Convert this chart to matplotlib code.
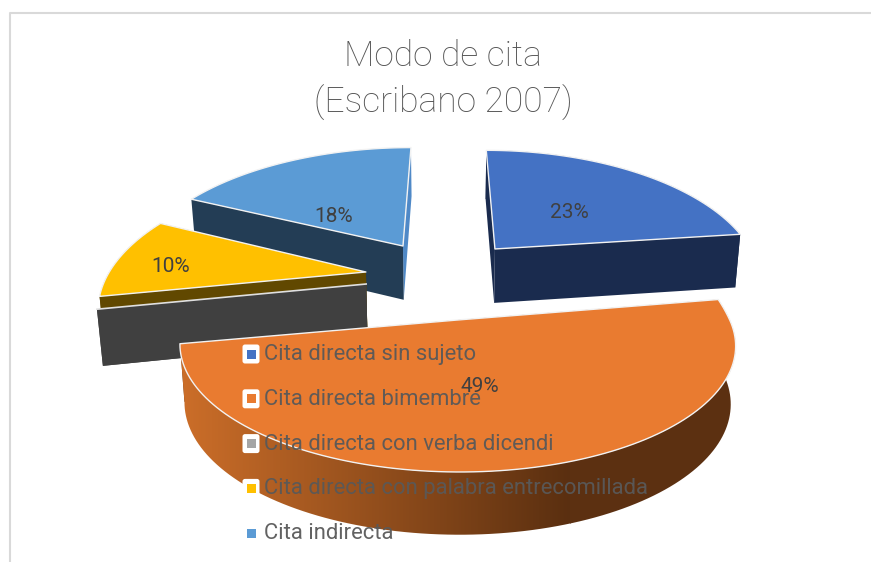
import numpy as np
import matplotlib
matplotlib.use('Agg')
import matplotlib.pyplot as plt
from matplotlib.colors import LinearSegmentedColormap
from matplotlib.patches import Polygon, FancyBboxPatch, Rectangle

categories = ['Cita directa sin sujeto', 'Cita directa bimembre', 'Cita directa con verba dicendi',
              'Cita directa con palabra entrecomillada', 'Cita indirecta']
values = [23, 49, 0, 10, 18]
colors = ['#4472C4', '#E97B30', '#A5A5A5', '#FFC000', '#5B9BD5']
dark_colors = ['#1A2B4E', '#5E3212', '#404040', '#614800', '#233D55']
pct_labels = ['23%', '49%', '', '10%', '18%']
label_pos = [(569, 211), (480, 385), (110, 340), (171, 265), (334, 215)]

# exploded position and radius of each slice on the disc
offset_x = [0.183, 0.035, -0.29, -0.297, -0.169]
offset_y = [0.2, -0.369, -0.098, 0.0, 0.227]
radius_x = [0.975, 0.92, 0.93, 0.94, 1.0]
radius_y = [1.09, 0.864, 1.03, 1.04, 1.1]
radius_back = [1.09, 1.2, 1.03, 1.04, 1.1]

# projection of the pie disc to pixels
cx, cy = 447, 272
A, B, k = 273, 120, 0.211
depth = 55


def project(X, Y, down=False):
    w = 1 + k * Y
    sx = A * X / w
    sy = cy - B * Y / w
    if down:
        sx = sx * 0.983
        sy = sy + depth / (1 + 0.1 * Y)
    return cx + sx, sy


def arc(i, t0, t1, down=False, n=120):
    t = np.radians(np.linspace(t0, t1, n))
    c = np.cos(t)
    ry = np.where(c > 0, radius_back[i], radius_y[i])
    return project(offset_x[i] + radius_x[i] * np.sin(t), offset_y[i] + ry * c, down)


def quad(p0, p1, p2, p3, fc, z):
    ax.add_patch(Polygon([p0, p1, p2, p3], closed=True, fc=fc, ec='none', zorder=z))


fig = plt.figure(figsize=(8.71, 5.62), dpi=100)
ax = fig.add_axes([0, 0, 1, 1])
ax.set_xlim(0, 871)
ax.set_ylim(562, 0)
ax.axis('off')

# frame
ax.plot([9.5, 9.5, 871], [562, 12.5, 12.5], color='#D9D9D9', lw=1.5, zorder=1)

edges = np.cumsum([0] + values) / sum(values) * 360

# back to front
for z, i in enumerate([4, 0, 3, 2, 1]):
    t0, t1 = edges[i], edges[i + 1]
    base = 10 + z * 5
    ax0, ay0 = project(offset_x[i], offset_y[i])
    bx0, by0 = project(offset_x[i], offset_y[i], True)
    tx, ty = arc(i, t0, t1)
    ux, uy = arc(i, t0, t1, True)

    # cut faces, the far one of the light blue slice catches light
    end_fc = '#4F89C7' if i == 4 else dark_colors[i]
    quad((tx[-1], ty[-1]), (ax0, ay0), (bx0, by0), (ux[-1], uy[-1]), end_fc, base)
    quad((tx[0], ty[0]), (ax0, ay0), (bx0, by0), (ux[0], uy[0]), dark_colors[i], base)

    # outer wall
    wall = list(zip(tx, ty)) + list(zip(ux[::-1], uy[::-1]))
    if i == 1:
        cmap = LinearSegmentedColormap.from_list('w', ['#CC6E29', '#5A2F10'])
        im = ax.imshow(np.linspace(0, 1, 256)[None, :], cmap=cmap, extent=[180, 570, 562, 300],
                       aspect='auto', zorder=base + 1, clim=(0, 1))
        right = ax.add_patch(Rectangle((570, 300), 180, 262, fc='#5C3011', ec='none', zorder=base + 1))
        clip = Polygon(wall, closed=True, transform=ax.transData, fc='none', ec='none')
        ax.add_patch(clip)
        im.set_clip_path(clip)
        right.set_clip_path(clip)
    elif i != 4:
        ax.add_patch(Polygon(wall, closed=True, fc=dark_colors[i], ec='none', zorder=base + 1))

    # top
    if values[i] > 0:
        top = list(zip(tx, ty)) + [(ax0, ay0)]
        ax.add_patch(Polygon(top, closed=True, fc=colors[i], ec='#F2F2F2', lw=1.0, zorder=base + 2,
                             joinstyle='round'))
    else:
        ax.plot([tx[0], ax0], [ty[0], ay0], color='#E0E0E0', lw=1.2, zorder=base + 2)

ax.set_xlim(0, 871)
ax.set_ylim(562, 0)

font = ['Roboto', 'DejaVu Sans']
ax.text(443, 56, 'Modo de cita', ha='center', va='center', fontsize=25.5, color='#555555',
        family=font, fontweight='light', zorder=60)
ax.text(443, 103, '(Escribano 2007)', ha='center', va='center', fontsize=25.5, color='#555555',
        family=font, fontweight='light', zorder=60)

for lab, (lx, ly) in zip(pct_labels, label_pos):
    ax.text(lx, ly + 1.5, lab, ha='center', va='center', fontsize=15, color='#404040', family=font, zorder=60)

# legend sits on top of the pie
for n, (name, c) in enumerate(zip(categories, colors)):
    y = 354 + n * 44.8
    ax.add_patch(FancyBboxPatch((245, y - 7), 12, 14, boxstyle='round,pad=2.5', fc='white', ec='none', zorder=70))
    ax.add_patch(Rectangle((246.5, y - 4.5), 9, 9, fc=c, ec='none', zorder=71))
    ax.text(264, y + 0.5, name, ha='left', va='center', fontsize=15.8, color='#595959', family=font,
            alpha=0.95, zorder=72)

fig.savefig('out.png', dpi=100)
